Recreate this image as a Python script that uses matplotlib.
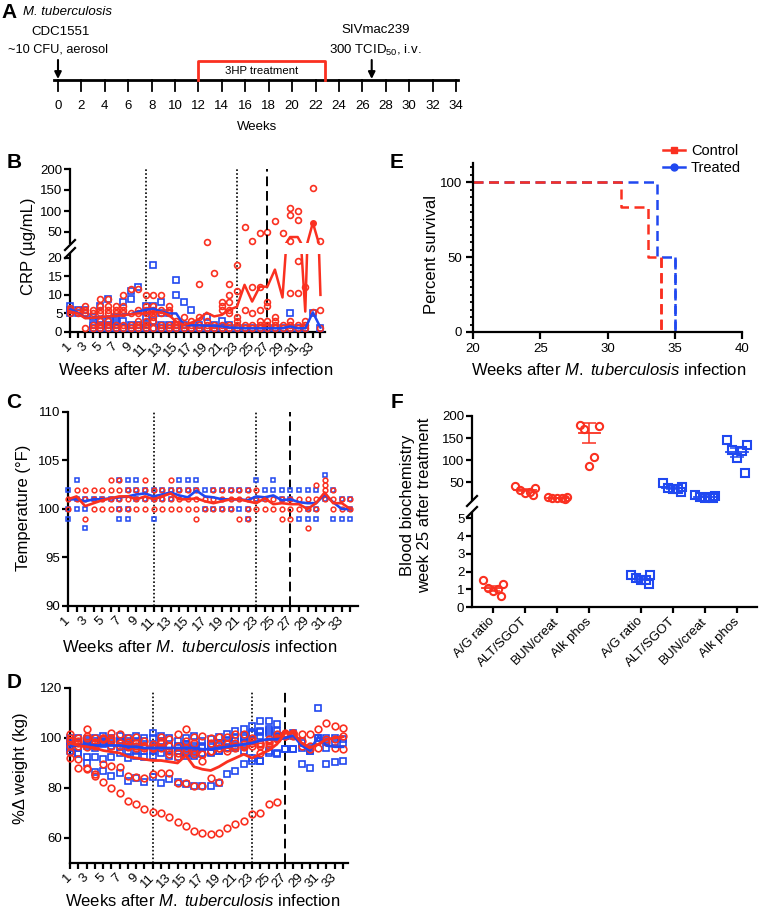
import numpy as np
import matplotlib
matplotlib.use('Agg')
import matplotlib.pyplot as plt
from matplotlib.lines import Line2D
from matplotlib.ticker import MultipleLocator

plt.rcParams['font.family'] = ['Liberation Sans', 'DejaVu Sans']
plt.rcParams['mathtext.fontset'] = 'custom'
plt.rcParams['mathtext.rm'] = 'Liberation Sans'
plt.rcParams['mathtext.it'] = 'Liberation Sans:italic'

RED = '#fa3020'
BLUE = '#2048f0'
nan = np.nan

# ---------------- data ----------------
weeks = np.arange(1, 35)
timeline_ticks = np.arange(0, 35, 2)
treat_start, treat_end = 12, 22.8
siv_week = 26.8

# B: CRP (ug/mL) per week, each list = individual animals
crp_red = [
    [5, 6, 6.5], [5, 6], [1, 5, 6, 7], [1, 2, 5, 6], [1, 2, 3, 5, 6, 7, 9],
    [1, 2, 3, 5, 6, 7, 9], [1, 2, 5, 6, 7], [1, 2, 5, 6, 7, 10], [1, 2, 5, 11.5],
    [1, 2, 3, 5, 6, 11.5], [1, 2, 3, 5, 6, 7, 10], [1, 3, 4, 5, 6, 7, 10],
    [1, 2, 5, 6, 10], [1, 2, 5, 6, 7], [1, 2, 3], [1, 2, 4], [1, 2, 3],
    [1, 2, 4, 13], [1, 2, 3, 27], [1, 2, 16], [1, 2, 6, 7, 8],
    [1, 2, 5, 6, 8, 10, 13], [1, 2, 3, 4, 11, 18], [1, 2, 6, 62],
    [1, 2, 5, 12, 28], [1, 2, 3, 6, 12, 47], [1, 2, 3, 7, 8, 50],
    [1, 2, 3, 4, 77], [1, 2, 47], [1, 2, 3, 10.5, 28, 90, 106],
    [1, 2, 10.5, 19, 79, 101], [1, 2, 3, 12], [5.5, 155], [1, 6, 28],
]
crp_blue = [
    [5, 6, 7], [5, 6], [5, 6], [1, 2, 4], [1, 2, 3, 7], [1, 2, 3, 9],
    [1, 2, 3, 4], [1, 3, 8], [1, 2, 9, 11], [1, 2, 12], [1, 2, 4, 7],
    [1, 3, 7, 18], [1, 2, 5, 8], [1, 2, 5], [1, 2, 10, 14], [1, 2, 8],
    [1, 6], [1, 2], [1, 4], [1, 2], [1, 3], [1, 2], [1], [1], [1], [1],
    [1], [1], [1], [1, 5], [1], [1], [5], [1],
]
crp_red_mean = [5.5, 5, 3.7, 3.8, 4, 4.2, 4.3, 4.5, 4.8, 5, 5, 5.4, 5.3, 4.6,
                2.8, 1.9, 2.5, 3.5, 5.2, 4.2, 4.6, 6, 6.8, 12.7, 8.2, 12.2,
                12.2, 16.8, 9.3, 38, 38, 5.5, 72, 10]
crp_blue_mean = [6.2, 5.2, 3.8, 3.8, 4.1, 4.1, 4.3, 4.6, 4.8, 5.5, 6, 6.3, 5.5,
                 5, 5, 1.9, 1.8, 1.8, 1.7, 1.7, 1.5, 1.2, 1.1, 1, 1, 1, 1, 1,
                 1, 1.5, 1, 1, 5.3, 1.2]

# C: temperature (F)
temp_red = [
    [101, 100], [102, 101], [102, 101, 99], [102, 101, 100], [102, 101, 100],
    [103, 102, 101, 100], [103, 102, 101, 100], [102, 101, 100], [102, 101, 100],
    [103, 102, 101, 100], [102, 101, 100], [102, 101, 100], [103, 102, 101, 100],
    [102, 101, 100], [102, 101, 100], [102, 101, 100, 99], [101, 100],
    [102, 101, 100], [102, 101, 100], [102, 101, 100], [102, 101, 99],
    [102, 101, 100, 99], [102, 101, 100], [101, 100], [101, 100],
    [101, 100, 99], [101, 100, 99], [101, 100], [101, 100, 98],
    [102.5, 101, 100], [103, 102.5, 102, 101], [102, 101, 100], [101, 100],
    [101, 100],
]
temp_blue = [
    [102, 100, 99], [103, 101, 100], [101, 100, 98], [101], [101], [101],
    [103, 101, 100, 99], [103, 102, 100, 99], [103, 102, 101], [102, 101],
    [102, 101, 99], [102, 101], [102, 101], [103, 102], [103, 102], [103, 102],
    [102, 100], [102, 100], [102, 100], [102, 100], [102, 100], [102, 100, 99],
    [103, 101], [102, 101], [103, 102], [102, 101], [102, 101], [102, 99],
    [102, 100, 99], [102, 100, 99], [103.5, 101], [102, 99], [101, 99],
    [101, 100, 99],
]
temp_red_mean = [101, 101.3, 100.3, 100.6, 100.9, 101.1, 101.3, 101.3, 101,
                 101.3, 101, 101.3, 101.6, 101, 101, 101.1, 100.8, 100.6,
                 100.8, 101, 101, 100.8, 100.6, 101.1, 100.5, 100.6, 100.5,
                 100.5, 100, 100.6, 101.7, 100.6, 100.6, 100]
temp_blue_mean = [101, 101, 100.8, 101, 101, 101.1, 101.2, 101.3, 101.5, 101.6,
                  101.3, 101.5, 101.7, 101.4, 101.2, 101.9, 101.3, 101.2, 101,
                  101, 101, 100.9, 101.3, 101.2, 101.4, 100.9, 101, 100.7,
                  100.6, 100.6, 101.5, 100.7, 100, 100]

# D: % change in weight, one row per animal
weight_red = [
    [92, 88, 88, 85, 82.5, 80, 78, 75, 73.5, 71.5, 70.5, 70, 68.5, 66.5, 65, 63,
     62, 61.5, 62, 64, 65.5, 67, 69.5, 70, 73.5, 74.5, nan, nan, nan, nan, nan,
     nan, nan, nan],
    [94.5, 91.5, 87.5, 85.5, 89.5, 89, 88.5, 85, 84.5, 84, 85.5, 86, 86, 82, 82,
     81, 81, 84, 82.5, nan, nan, nan, nan, nan, nan, nan, nan, nan, nan, nan,
     nan, nan, nan, nan],
    [99, 97, 100, 98, 100, 99, 98, 97, 96, 97, 96, 98, 95, 94, 96, 95, 93.5, 95,
     96, 95, 96, 97, 97, 98, 99, 100, 101, 102, 97, 95.5, 96, 98.5, 96, 95.5],
    [101.5, 99, 103.5, 100, 99.5, 102, 101.5, 100, 100.5, 99, 97.5, 100.5, 99.5,
     101.5, 103.5, 100.5, 101, 100, 100.5, 100.5, 101.5, 101.5, 100, 97.5, 99.5,
     101.5, 102, 101.5, 101.5, 101.5, 103.5, 106, 104.8, 104],
    [100, 100, 101, 98.5, 100, 100, 98, 98.5, 98, 97, 96, 99, 97, 97, 99, 98,
     90.8, 98, 97.5, 97.5, 98, 96.5, 98, 94, 97, 99.5, 101, 101, nan, nan, nan,
     nan, nan, nan],
    [97, 98, 96.5, 97, 99.5, 97, 97, 96.5, 97, 96, 96.5, 96, 93.5, 92.5, 95,
     93.5, 93.5, 95, 96, 96, 97, 97.5, 99, 97, 98, 100, 101.5, 102, 99, 97, 99,
     99.5, 99.5, 101],
]
weight_blue = [
    [95, 94, 92.5, 86.5, 87, 85, 86, 83, 84, 82.5, 84.5, 82, 83.5, 82.5, 81.5,
     81, 81, 81, 82, 85.5, 87, 89.5, 91, 91, 94, 93.5, 95.5, 95.5, 89.5, 88,
     nan, 89.5, 90.5, 91],
    [97, 93.5, 90, 92.5, 91.5, 92.5, 94, 92, 93, 92.5, 93, 94, 93, 92.5, 93, 93,
     93.5, 94, 95, 96, 96, 95, 92, 91, 95, 94, 95.5, 95.5, 96, 95, 112, 96, nan,
     nan],
    [99, 98, 97, 96, 97.5, 97, 97, 95, 95, 95, 95, 96, 95, 95, 94, 94, 94, 94.5,
     95, 96, 97, 98, 99, 101, 102, 101, 101, 101, 98, 95, 100, 99, 98.5, 98],
    [100, 100, 99.5, 100, 101, 100, 101, 100, 101, 100, 100, 101, 100, 99, 100,
     101, 99, 99.5, 100.5, 101.5, 102.8, 103.5, 104.8, 106.8, 106.8, 105.5, 101,
     102, 99, 96, 100, 100, 100, 99.5],
    [98, 96, 98, 98, 98, 98.5, 99, 97, 98, 97, 97, 98, 97, 96, 97, 96, 96, 96.5,
     97, 98, 99, 100, 102, 103, 103.5, 103, nan, nan, nan, nan, nan, nan, nan,
     nan],
    [96, 98, 99, 99, 99, 99, 98, 99, 99, 99, 102, 99, 97, 97, 97.5, 97, 97,
     97.5, 98, 99, 100, 101, 101.5, 102.5, 103, 100.5, nan, nan, nan, nan, nan,
     nan, nan, nan],
]
weight_red_mean = [98, 97, 96.5, 96, 95, 94.5, 94, 92.5, 92, 91.5, 91, 91,
                   90.5, 90, 93, 88.5, 87.5, 87, 88.5, 90.5, 92, 93.5, 92, 93.5,
                   95, 97.5, 102, 102, 98, 96, 97.5, 99.5, 100, 100.5]
weight_blue_mean = [97, 97, 97.5, 97, 97, 97, 97, 96.5, 96.5, 96, 96, 96, 96,
                    96, 96, 96, 95.5, 95.5, 96, 96.5, 97, 97.5, 98, 99, 99.5,
                    99.5, 100, 101, 97, 95, 100.5, 97, 96.5, 96.5]

# E: survival
surv_ctrl_t = [20, 31, 33, 34]
surv_ctrl_p = [100, 83.3, 50, 0]
surv_trt_t = [20, 33.7, 35]
surv_trt_p = [100, 50, 0]

# F: blood biochemistry
bio_labels = ['A/G ratio', 'ALT/SGOT', 'BUN/creat', 'Alk phos']
bio_ctrl = [[1.5, 1.3, 1.05, 1.0, 0.9, 0.6],
            [42, 38, 33, 28, 26, 22],
            [17, 16, 15, 15, 14, 13],
            [180, 178, 170, 108, 87]]
bio_trt = [[1.8, 1.8, 1.65, 1.55, 1.5, 1.3],
           [48, 40, 38, 36, 35, 28],
           [21, 19, 17, 16, 15, 14],
           [145, 135, 122, 120, 105, 70]]
bio_ctrl_mean = [1.05, 33, 15, 161]
bio_ctrl_sem = [0.12, 3, 0.6, 23]
bio_trt_mean = [1.6, 38, 17, 118]
bio_trt_sem = [0.08, 3, 1, 10]

# ---------------- figure ----------------
W, H = 765, 919
fig = plt.figure(figsize=(W / 100, H / 100), dpi=100)
LAB = 12


def pxrect(x0, y0, x1, y1):
    return [x0 / W, 1 - y1 / H, (x1 - x0) / W, (y1 - y0) / H]


def ftext(x, y, s, **kw):
    fig.text(x / W, 1 - y / H, s, **kw)


def slash(x, y):
    fig.add_artist(Line2D([(x - 5) / W, (x + 5) / W], [1 - (y + 5) / H, 1 - (y - 5) / H],
                          color='black', lw=1.6, transform=fig.transFigure))


def style(ax):
    for s in ('top', 'right'):
        ax.spines[s].set_visible(False)
    for s in ('left', 'bottom'):
        ax.spines[s].set_linewidth(1.6)
    ax.tick_params(width=1.6, length=4, labelsize=9.5, pad=1.5)


def flatten(lists):
    xs, ys = [], []
    for w, vals in zip(weeks, lists):
        xs += [w] * len(vals)
        ys += vals
    return np.array(xs), np.array(ys)


def week_axis(ax):
    ax.set_xticks(weeks)
    ax.set_xticklabels([str(w) if w % 2 else '' for w in weeks], rotation=45,
                       ha='right', va='center', rotation_mode='anchor')
    ax.tick_params(axis='x', pad=5)


def vlines(ax, top=1.0):
    for x, ls, lw in [(11, (0, (1, 1.3)), 1.2), (23, (0, (1, 1.3)), 1.2), (27, (0, (5, 2.5)), 1.4)]:
        ax.axvline(x, ymin=0, ymax=top, color='black', ls=ls, lw=lw, clip_on=False, zorder=1)


xl = r'Weeks after $\mathit{M.\ tuberculosis}$ infection'

# ---------- A: timeline ----------
sc = (456 - 58) / 34
axA = fig.add_axes(pxrect(0, 0, W, 135))
axA.set_xlim(-58 / sc, (W - 58) / sc)
axA.set_ylim(135, 0)
axA.axis('off')
axA.plot([-0.3, 34.2], [80, 80], color='black', lw=2)
for t in timeline_ticks:
    axA.plot([t, t], [80, 91], color='black', lw=1.3)
    axA.text(t, 106, str(t), ha='center', va='center', fontsize=9.5)
axA.text(17, 127, 'Weeks', ha='center', va='center', fontsize=9.5)
axA.plot([treat_start, treat_start, treat_end, treat_end], [80, 61, 61, 80], color=RED, lw=2)
axA.text((treat_start + treat_end) / 2, 71, '3HP treatment', ha='center', va='center',
         fontsize=8.2)
for w in (0, siv_week):
    axA.annotate('', xy=(w, 79), xytext=(w, 60),
                 arrowprops=dict(arrowstyle='-|>', color='black', lw=1.5,
                                 mutation_scale=10, shrinkA=0, shrinkB=0))
axA.text(-2.95, 12, 'M. tuberculosis', ha='left', va='center', fontsize=9.5, style='italic')
axA.text(0.2, 32, 'CDC1551', ha='center', va='center', fontsize=9.5)
axA.text(0, 50, '~10 CFU, aerosol', ha='center', va='center', fontsize=9.2)
axA.text(27.1, 30, 'SIVmac239', ha='center', va='center', fontsize=9.5)
axA.text(27.1, 50, r'300 TCID$_{50}$, i.v.', ha='center', va='center', fontsize=9.5)

# ---------- B: CRP ----------
axBu = fig.add_axes(pxrect(70, 169, 325, 242.5))
axBl = fig.add_axes(pxrect(70, 254, 325, 332))
for ax in (axBu, axBl):
    style(ax)
    ax.set_xlim(1, 34.6)
axBu.spines['bottom'].set_visible(False)
axBu.set_xticks([])
axBu.set_ylim(25, 200)
axBu.set_yticks([50, 100, 150, 200])
axBl.set_ylim(0, 21)
axBl.set_yticks([0, 5, 10, 15, 20])
week_axis(axBl)
vlines(axBl, top=(332 - 169) / (332 - 254))
slash(70, 245)
slash(70, 253)

xr, yr = flatten(crp_red)
xb, yb = flatten(crp_blue)
for ax, lo, hi in ((axBl, -1, 21), (axBu, 21, 300)):
    mb = (yb > lo) & (yb <= hi)
    mr = (yr > lo) & (yr <= hi)
    ax.plot(xb[mb], yb[mb], ls='none', marker='s', ms=4, mfc='none', mec=BLUE, mew=1.2,
            clip_on=False, zorder=3)
    ax.plot(xr[mr], yr[mr], ls='none', marker='o', ms=4.2, mfc='none', mec=RED, mew=1.2,
            clip_on=False, zorder=3)
    ax.plot(weeks, crp_blue_mean, color=BLUE, lw=1.8, zorder=4)
    ax.plot(weeks, crp_red_mean, color=RED, lw=1.8, zorder=5)
axBu.plot([33], [crp_red_mean[32]], 'o', color=RED, ms=4, zorder=5)
ftext(29, 246, 'CRP (µg/mL)', rotation=90, ha='center', va='center', fontsize=LAB)
ftext(196, 370, xl, ha='center', va='center', fontsize=LAB)

# ---------- C: temperature ----------
axC = fig.add_axes(pxrect(68, 412, 358, 606))
style(axC)
axC.set_xlim(1, 34.9)
axC.set_ylim(90, 110)
axC.set_yticks([90, 95, 100, 105, 110])
week_axis(axC)
vlines(axC)
xb, yb = flatten(temp_blue)
xr, yr = flatten(temp_red)
axC.plot(xb, yb, ls='none', marker='s', ms=3.4, mfc='none', mec=BLUE, mew=1.1, clip_on=False, zorder=3)
axC.plot(xr, yr, ls='none', marker='o', ms=3.4, mfc='none', mec=RED, mew=1.1, clip_on=False, zorder=3)
axC.plot(weeks, temp_blue_mean, color=BLUE, lw=1.9, zorder=4)
axC.plot(weeks, temp_red_mean, color=RED, lw=1.9, zorder=5)
ftext(24, 508, 'Temperature (°F)', rotation=90, ha='center', va='center', fontsize=LAB)
ftext(200, 647, xl, ha='center', va='center', fontsize=LAB)

# ---------- D: weight ----------
axD = fig.add_axes(pxrect(70, 688, 348, 863))
style(axD)
axD.set_xlim(1, 34.6)
axD.set_ylim(50, 120)
axD.set_yticks([60, 80, 100, 120])
week_axis(axD)
vlines(axD, top=0.985)
for row in weight_blue:
    axD.plot(weeks, row, ls='none', marker='s', ms=4.6, mfc='none', mec=BLUE, mew=1.2,
             clip_on=False, zorder=3)
for row in weight_red:
    axD.plot(weeks, row, ls='none', marker='o', ms=4.8, mfc='none', mec=RED, mew=1.2,
             clip_on=False, zorder=3)
axD.plot(weeks, weight_blue_mean, color=BLUE, lw=2, zorder=4)
axD.plot(weeks, weight_red_mean, color=RED, lw=2, zorder=5)
ftext(21, 768, '%Δ weight (kg)', rotation=90, ha='center', va='center', fontsize=LAB)
ftext(203, 901, xl, ha='center', va='center', fontsize=LAB)

# ---------- E: survival ----------
axE = fig.add_axes(pxrect(473, 163, 742, 332))
style(axE)
axE.set_xlim(20, 40)
axE.set_ylim(0, 113)
axE.set_xticks([20, 25, 30, 35, 40])
axE.set_yticks([0, 50, 100])
axE.yaxis.set_minor_locator(MultipleLocator(5))
axE.tick_params(axis='both', which='major', length=5, pad=3)
axE.tick_params(axis='y', which='minor', width=1.3, length=2.5)
axE.step(surv_trt_t, surv_trt_p, where='post', color=BLUE, lw=1.8, ls=(0, (4, 2.2)), clip_on=False)
axE.step(surv_ctrl_t, surv_ctrl_p, where='post', color=RED, lw=1.8, ls=(0, (4, 2.2)), clip_on=False)
axE.plot([surv_ctrl_t[-1], surv_ctrl_t[-1]], [surv_ctrl_p[-2], 0], color=RED, lw=1.8,
         ls=(0, (4, 2.2)))
axE.plot([surv_trt_t[-1], surv_trt_t[-1]], [surv_trt_p[-2], 0], color=BLUE, lw=1.8,
         ls=(0, (4, 2.2)))
handles = [Line2D([], [], color=RED, marker='s', ms=5, lw=1.8, label='Control'),
           Line2D([], [], color=BLUE, marker='o', ms=5, lw=1.8, label='Treated')]
fig.legend(handles=handles, loc='upper left', bbox_to_anchor=(656 / W, 1 - 137 / H),
           frameon=False, fontsize=10.5, handlelength=1.5, handletextpad=0.4,
           labelspacing=0.2, borderpad=0)
ftext(431, 254, 'Percent survival', rotation=90, ha='center', va='center', fontsize=LAB)
ftext(609, 370, xl, ha='center', va='center', fontsize=LAB)

# ---------- F: biochemistry ----------
cat_pos = [0, 1, 2, 3, 4.6, 5.6, 6.6, 7.6]
spread = [-0.3, 0.3, -0.15, 0.15, 0.0, 0.25]
axFu = fig.add_axes(pxrect(472, 416, 757, 500))
axFl = fig.add_axes(pxrect(472, 513, 757, 607))
for ax in (axFu, axFl):
    style(ax)
    ax.set_xlim(-0.65, 8.22)
axFu.spines['bottom'].set_visible(False)
axFu.set_xticks([])
axFu.set_ylim(10, 200)
axFu.set_yticks([50, 100, 150, 200])
axFl.set_ylim(0, 5.3)
axFl.set_yticks([0, 1, 2, 3, 4, 5])
axFl.set_xticks(cat_pos)
axFl.set_xticklabels(bio_labels * 2, rotation=45, ha='right', va='center',
                     rotation_mode='anchor', fontsize=9.5)
axFl.tick_params(axis='x', pad=5)
slash(472, 501)
slash(472, 512)

groups = [(bio_ctrl, bio_ctrl_mean, bio_ctrl_sem, cat_pos[:4], RED, 'o'),
          (bio_trt, bio_trt_mean, bio_trt_sem, cat_pos[4:], BLUE, 's')]
for vals, means, sems, poss, col, mk in groups:
    for v, m, s, p in zip(vals, means, sems, poss):
        ax = axFl if m < 5 else axFu
        xs = [p + spread[i] for i in range(len(v))]
        ax.plot(xs, v, ls='none', marker=mk, ms=5.2, mfc='none', mec=col, mew=1.5,
                clip_on=False, zorder=3)
        ax.plot([p - 0.33, p + 0.33], [m, m], color=col, lw=1.3, zorder=4)
        ax.errorbar([p], [m], yerr=[s], color=col, lw=1.1, capsize=5, capthick=1.1, zorder=4)
ftext(416, 505, 'Blood biochemistry\nweek 25 after treatment', rotation=90, ha='center',
      va='center', fontsize=LAB, multialignment='center', linespacing=1.1)

# ---------- panel letters ----------
for lab, x, y in [('A', 9, 13), ('B', 14, 163), ('C', 14, 403), ('D', 14, 682),
                  ('E', 397, 163), ('F', 397, 403)]:
    ftext(x, y, lab, ha='center', va='center', fontsize=15, fontweight='bold')

fig.savefig('out.png', dpi=100)
